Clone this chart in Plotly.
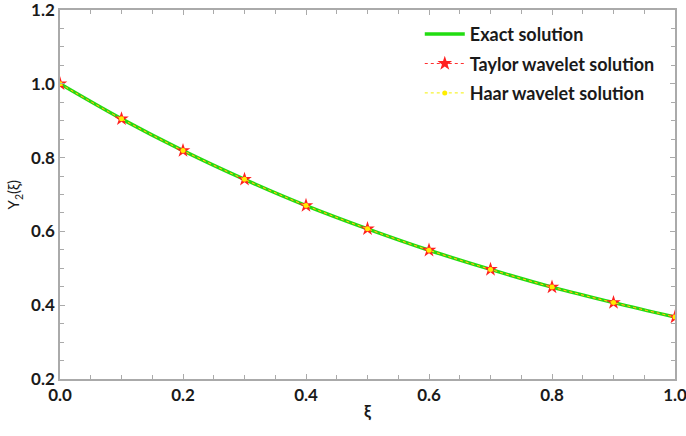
import plotly.graph_objects as go

xi = [0.0, 0.1, 0.2, 0.3, 0.4, 0.5, 0.6, 0.7, 0.8, 0.9, 1.0]
exact = [1.0, 0.905, 0.819, 0.741, 0.670, 0.607, 0.549, 0.497, 0.449, 0.407, 0.368]
taylor = [1.0, 0.905, 0.819, 0.741, 0.670, 0.607, 0.549, 0.497, 0.449, 0.407, 0.368]
haar = [1.0, 0.905, 0.819, 0.741, 0.670, 0.607, 0.549, 0.497, 0.449, 0.407, 0.368]

FONT = "Lato"
TXT = "#1a1a1a"

fig = go.Figure()
fig.add_trace(go.Scatter(x=xi, y=exact, mode="lines", name="Exact solution", legendgroup="a",
                         line=dict(color="#22dd11", width=3.5, shape="spline")))
fig.add_trace(go.Scatter(x=xi, y=taylor, mode="lines+markers", name="Taylor wavelet solution",
                         legendgroup="b",
                         line=dict(color="#ff3030", width=1, dash="dot", shape="spline"),
                         marker=dict(symbol="star", color="#ff2020", size=11, line=dict(width=0))))
fig.add_trace(go.Scatter(x=xi, y=haar, mode="lines+markers", name="Haar wavelet solution",
                         legendgroup="c",
                         line=dict(color="#f4f000", width=1, dash="dot", shape="spline"),
                         marker=dict(symbol="circle", color="#ffee00", size=5, line=dict(width=0))))

axis_common = dict(showline=True, linecolor="#aaaaaa", linewidth=1.5, mirror="ticks",
                   ticks="inside", ticklen=5, tickcolor="#aaaaaa", showgrid=False,
                   zeroline=False, automargin=False, ticklabeloverflow="allow",
                   tickfont=dict(family=FONT, size=17, color=TXT, weight="bold"),
                   minor=dict(ticks="inside", ticklen=4, tickcolor="#aaaaaa", dtick=0.05))

fig.update_layout(
    width=686, height=436,
    margin=dict(l=60, r=11, t=10, b=57),
    paper_bgcolor="white", plot_bgcolor="white",
    xaxis=dict(range=[0, 1], tickvals=[0, 0.2, 0.4, 0.6, 0.8, 1.0], tickformat=".1f",
               **axis_common),
    yaxis=dict(range=[0.2, 1.2], tickvals=[0.2, 0.4, 0.6, 0.8, 1.0, 1.2], tickformat=".1f",
               **axis_common),
    legend=dict(x=0.585, y=0.984, xanchor="left", yanchor="top", bgcolor="rgba(0,0,0,0)",
                font=dict(family=FONT, size=18, color=TXT, weight="bold"),
                itemwidth=40, tracegroupgap=3),
    showlegend=True,
    annotations=[
        dict(text="ξ", xref="paper", yref="paper", x=0.5, y=-0.085, yanchor="middle",
             xanchor="center", showarrow=False,
             font=dict(family=FONT, size=17, color=TXT, weight="bold")),
        dict(text="Y<sub>2</sub>(ξ)", xref="paper", yref="paper", x=-0.075, y=0.5,
             xanchor="center", yanchor="middle", textangle=-90, showarrow=False,
             font=dict(family=FONT, size=15, color=TXT)),
    ],
)

fig.write_html("out.html", config={"displayModeBar": False},
               post_script="document.body.style.margin='0';")
